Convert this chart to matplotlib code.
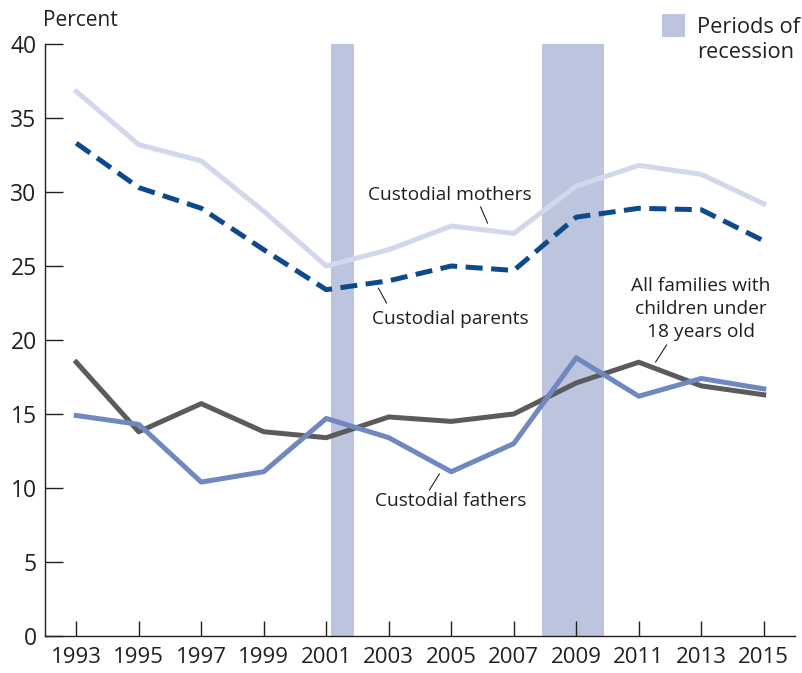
import numpy as np
import matplotlib.pyplot as plt
from matplotlib.patches import Rectangle

plt.rcParams['font.family'] = ['Open Sans', 'DejaVu Sans']

years = [1993, 1995, 1997, 1999, 2001, 2003, 2005, 2007, 2009, 2011, 2013, 2015]
custodial_mothers = [36.8, 33.2, 32.1, 28.7, 25.0, 26.1, 27.7, 27.2, 30.4, 31.8, 31.2, 29.2]
custodial_parents = [33.3, 30.3, 28.9, 26.1, 23.4, 24.0, 25.0, 24.7, 28.3, 28.9, 28.8, 26.7]
all_families = [18.5, 13.8, 15.7, 13.8, 13.4, 14.8, 14.5, 15.0, 17.1, 18.5, 16.9, 16.3]
custodial_fathers = [14.9, 14.3, 10.4, 11.1, 14.7, 13.4, 11.1, 13.0, 18.8, 16.2, 17.4, 16.7]
recessions = [(2001.15, 2001.88), (2007.9, 2009.88)]

c_mothers = "#d2d7eb"
c_parents = "#0d4a8c"
c_all = "#5b5b5d"
c_fathers = "#6f88bf"
c_rec = "#bdc4de"
c_text = "#231f20"

fig = plt.figure(figsize=(8.02, 6.73), dpi=100)
ax = fig.add_axes([45 / 802, 37 / 673, 750 / 802, 592 / 673])

for a, b in recessions:
    ax.axvspan(a, b, color=c_rec, lw=0, zorder=1)

ax.plot(years, custodial_mothers, color=c_mothers, lw=3.6, zorder=3)
ax.plot(years, custodial_parents, color=c_parents, lw=3.6, ls=(0, (3.4, 1.7)), zorder=3)
ax.plot(years, all_families, color=c_all, lw=3.6, zorder=3)
ax.plot(years, custodial_fathers, color=c_fathers, lw=3.6, zorder=4)

ax.set_xlim(1992, 2016)
ax.set_ylim(0, 40)
ax.set_xticks(years)
ax.set_yticks(range(0, 41, 5))
ax.tick_params(axis="x", direction="in", length=11, width=1, color=c_text,
               labelsize=16, labelcolor=c_text, pad=8)
ax.tick_params(axis="y", direction="in", length=13, width=1, color=c_text,
               labelsize=16.5, labelcolor=c_text, pad=6)
for s in ["top", "right"]:
    ax.spines[s].set_visible(False)
for s in ["left", "bottom"]:
    ax.spines[s].set_color(c_text)
    ax.spines[s].set_linewidth(1)

fig.text(43 / 802, 1 - 21 / 673, "Percent", fontsize=15, color=c_text, va="center", ha="left")

lab = dict(fontsize=13.8, color=c_text, ha="center", va="center", zorder=5)
ax.text(2004.94, 29.8, "Custodial mothers", **lab)
ax.plot([2005.94, 2006.16], [28.99, 27.9], color=c_text, lw=0.8, zorder=5)
ax.text(2004.98, 21.4, "Custodial parents", **lab)
ax.plot([2002.67, 2002.93], [23.5, 22.5], color=c_text, lw=0.8, zorder=5)
ax.text(2004.98, 9.1, "Custodial fathers", **lab)
ax.plot([2004.62, 2004.30], [10.95, 9.86], color=c_text, lw=0.8, zorder=5)
ax.text(2012.98, 22.1, "All families with\nchildren under\n18 years old",
        linespacing=1.35, **lab)
ax.plot([2011.89, 2011.54], [19.66, 18.51], color=c_text, lw=0.8, zorder=5)

fig.patches.append(Rectangle((662 / 802, 1 - 37 / 673), 23 / 802, 23 / 673,
                             transform=fig.transFigure, color=c_rec, lw=0))
fig.text(697 / 802, 1 - 40 / 673, "Periods of\nrecession", fontsize=15.7,
         color=c_text, ha="left", va="center", linespacing=1.2)

fig.savefig("out.png", dpi=100)
